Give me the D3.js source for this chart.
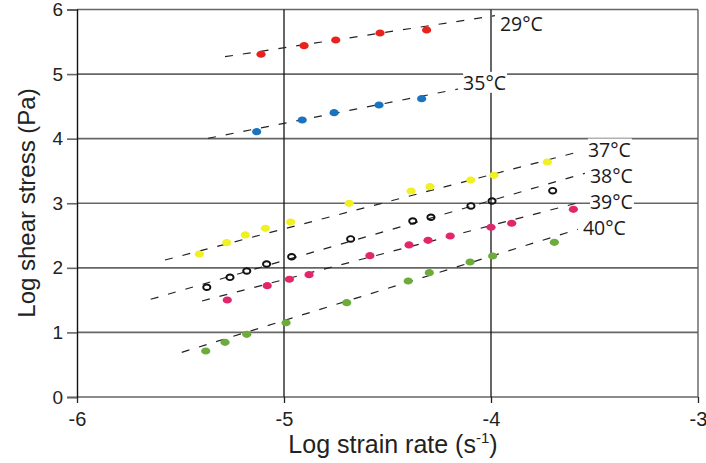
<!DOCTYPE html>
<html>
<head>
<meta charset="utf-8">
<script src="https://cdn.jsdelivr.net/npm/d3@7"></script>
<style>
  html, body { margin: 0; padding: 0; background: #fff; }
  svg { display: block; }
</style>
</head>
<body>
<svg id="chart" width="706" height="463"></svg>
<script>
// Temperature series: log strain rate (x) vs log shear stress (y)
const temperatures = ["29°C", "35°C", "37°C", "38°C", "39°C", "40°C"];

const strain29 = [-5.111, -4.903, -4.750, -4.536, -4.311];
const stress29 = [5.307, 5.440, 5.528, 5.636, 5.683];

const strain35 = [-5.132, -4.912, -4.758, -4.541, -4.335];
const stress35 = [4.108, 4.289, 4.402, 4.521, 4.619];

const strain37 = [-5.409, -5.277, -5.187, -5.090, -4.968, -4.685, -4.386, -4.295, -4.098, -3.986, -3.728];
const stress37 = [2.214, 2.389, 2.509, 2.612, 2.710, 2.999, 3.190, 3.256, 3.360, 3.433, 3.639];

const strain38 = [-5.373, -5.261, -5.180, -5.084, -4.963, -4.678, -4.378, -4.290, -4.097, -3.995, -3.702];
const stress38 = [1.699, 1.853, 1.951, 2.059, 2.172, 2.447, 2.725, 2.783, 2.958, 3.035, 3.194];

const strain39 = [-5.274, -5.081, -4.974, -4.879, -4.585, -4.396, -4.304, -4.197, -4.000, -3.900, -3.602];
const stress39 = [1.502, 1.723, 1.823, 1.894, 2.188, 2.354, 2.426, 2.493, 2.628, 2.690, 2.906];

const strain40 = [-5.378, -5.285, -5.180, -4.990, -4.697, -4.400, -4.298, -4.101, -3.992, -3.694];
const stress40 = [0.712, 0.847, 0.971, 1.150, 1.460, 1.796, 1.925, 2.090, 2.183, 2.395];

// Fitted power-law lines, [log strain rate, log shear stress] at each end
const fitStart = [[-5.285, 5.269], [-5.367, 4.006], [-5.575, 2.121], [-5.644, 1.513], [-5.396, 1.487], [-5.494, 0.692]];
const fitEnd   = [[-3.981, 5.904], [-4.159, 4.769], [-3.556, 3.814], [-3.546, 3.464], [-3.546, 3.035], [-3.580, 2.597]];

const xTicks = [-6, -5, -4, -3];
const yTicks = [0, 1, 2, 3, 4, 5, 6];

const strains = [strain29, strain35, strain37, strain38, strain39, strain40];
const stresses = [stress29, stress35, stress37, stress38, stress39, stress40];

// Marker styles per temperature
const fills   = ["#e8231d", "#1b72bf", "#f1f021", "none", "#e2266a", "#6dab3a"];
const strokes = ["none", "none", "none", "#111", "none", "none"];
const labelDy = [8, -6, -1, 3, 1, -1];

const svg = d3.select("#chart");
const x = d3.scaleLinear().domain([-6, -3]).range([77, 698]);
const y = d3.scaleLinear().domain([0, 6]).range([397, 9.5]);

// Horizontal grid lines
svg.append("g").selectAll("line").data(yTicks).join("line")
  .attr("x1", x(-6)).attr("x2", x(-3))
  .attr("y1", d => y(d)).attr("y2", d => y(d))
  .attr("stroke", "#666").attr("stroke-width", 1.6);

// Vertical grid lines
svg.append("g").selectAll("line").data([-5, -4]).join("line")
  .attr("x1", d => x(d)).attr("x2", d => x(d))
  .attr("y1", y(6)).attr("y2", y(0))
  .attr("stroke", "#151515").attr("stroke-width", 1.3);

// Right frame edge
svg.append("line")
  .attr("x1", x(-3)).attr("x2", x(-3)).attr("y1", y(6)).attr("y2", y(0))
  .attr("stroke", "#555").attr("stroke-width", 1.3);

// Axes
const tickFont = "'Liberation Sans', Arial, sans-serif";
const yAxis = svg.append("g").attr("transform", `translate(${x(-6)},0)`)
  .call(d3.axisLeft(y).tickValues(yTicks).tickFormat(d3.format("d")).tickSize(10).tickPadding(4));
yAxis.select(".domain").attr("stroke", "#111").attr("stroke-width", 1.4);
yAxis.selectAll(".tick line").attr("stroke", "#666").attr("stroke-width", 1.6);
yAxis.selectAll(".tick text").attr("font-family", tickFont)
  .attr("font-size", 19).attr("fill", "#222");

const xAxis = svg.append("g").attr("transform", `translate(0,${y(0)})`)
  .call(d3.axisBottom(x).tickValues(xTicks).tickFormat(d => d3.format("d")(d).replace("−", "-")).tickSize(6).tickPadding(9));
xAxis.select(".domain").remove();
xAxis.selectAll(".tick line").attr("stroke", "#222").attr("stroke-width", 1.3);
xAxis.selectAll(".tick text").attr("font-family", tickFont)
  .attr("font-size", 20).attr("fill", "#222");

// Dashed fit lines
svg.append("g").selectAll("line").data(temperatures).join("line")
  .attr("x1", (d, i) => x(fitStart[i][0])).attr("y1", (d, i) => y(fitStart[i][1]))
  .attr("x2", (d, i) => x(fitEnd[i][0])).attr("y2", (d, i) => y(fitEnd[i][1]))
  .attr("stroke", "#222").attr("stroke-width", 1.2).attr("stroke-dasharray", "8,10");

// Data markers
temperatures.forEach((t, i) => {
  const pts = strains[i].map((s, j) => [s, stresses[i][j]]);
  const open = fills[i] === "none";
  svg.append("g").selectAll("ellipse").data(pts).join("ellipse")
    .attr("cx", d => x(d[0])).attr("cy", d => y(d[1]))
    .attr("rx", open ? 3.6 : 4.6).attr("ry", open ? 2.8 : 3.6)
    .attr("fill", fills[i]).attr("stroke", strokes[i]).attr("stroke-width", open ? 1.9 : 0);
});

// Temperature labels at the end of each fit line
const labels = svg.append("g");
temperatures.forEach((t, i) => {
  const lx = x(fitEnd[i][0]) + 5, ly = y(fitEnd[i][1]) + labelDy[i];
  const txt = labels.append("text")
    .attr("x", lx).attr("y", ly).attr("dy", "0.35em")
    .attr("font-family", "'Open Sans', sans-serif").attr("font-size", 19.5)
    .attr("fill", "#1a1a1a").text(t);
  const bb = txt.node().getBBox();
  labels.insert("rect", "text")
    .attr("x", bb.x).attr("y", bb.y + 3).attr("width", bb.width + 1).attr("height", bb.height - 6)
    .attr("fill", "#fff");
});
labels.selectAll("text").raise();

// Axis titles
svg.append("text")
  .attr("x", 393).attr("y", 453).attr("text-anchor", "middle")
  .attr("font-family", tickFont).attr("font-size", 25).attr("fill", "#222")
  .call(t => {
    t.append("tspan").text("Log strain rate (s");
    t.append("tspan").attr("font-size", 15).attr("dy", -10).text("-1");
    t.append("tspan").attr("dy", 10).text(")");
  });

svg.append("text")
  .attr("transform", "translate(35,203) rotate(-90)").attr("text-anchor", "middle")
  .attr("font-family", tickFont).attr("font-size", 24).attr("fill", "#222")
  .text("Log shear stress (Pa)");
</script>
</body>
</html>
